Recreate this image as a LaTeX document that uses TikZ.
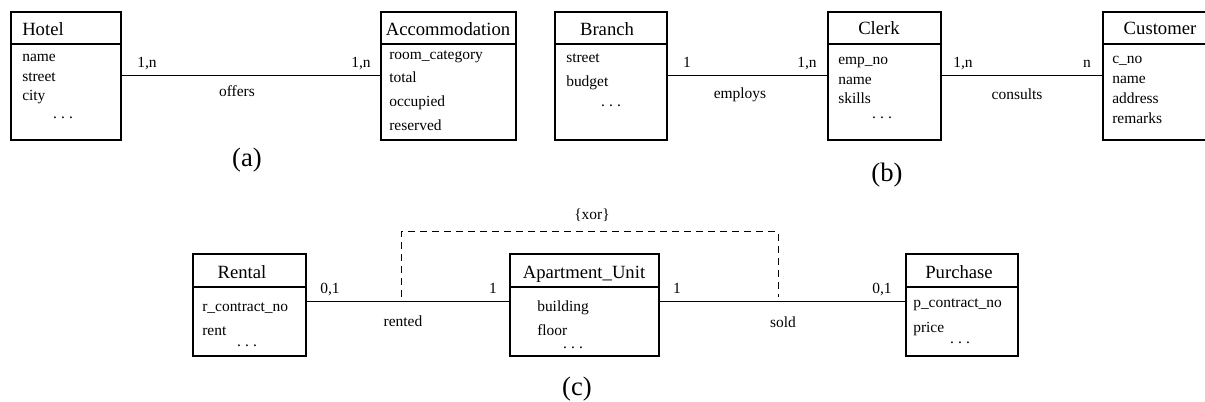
\documentclass[tikz,border=0pt]{standalone}
\usepackage{fontspec}
\setmainfont{Liberation Serif}
\newcommand\tdots{.\hspace{0.27em}.\hspace{0.27em}.}
\begin{document}
\begin{tikzpicture}[x=0.75pt,y=-0.75pt,
  ebox/.style={draw, line width=0.8pt, inner sep=0pt, outer sep=0pt, anchor=north west},
  eline/.style={line width=0.8pt},
  conn/.style={line width=0.75pt},
  xorline/.style={line width=0.75pt, dash pattern=on 5.25pt off 3.75pt},
  hdr/.style={font=\fontsize{14}{16}\selectfont, inner sep=0pt, anchor=base},
  attr/.style={font=\fontsize{11.6}{13}\selectfont, inner sep=0pt, anchor=base west},
  dts/.style={font=\fontsize{11.6}{13}\selectfont, inner sep=0pt, anchor=base},
  lbl/.style={font=\fontsize{11.6}{13}\selectfont, inner sep=0pt, anchor=base},
  capt/.style={font=\fontsize{20}{24}\selectfont, inner sep=0pt, anchor=base}]
\clip (0,0) rectangle (1205,402);
\fill[white] (0,0) rectangle (1205,402);

% ---------- entity boxes ----------
\newcommand\entity[6]{% name, x, y, w, h, header offset (px)
  \node[ebox, minimum width={#4*0.75pt}, minimum height={#5*0.75pt}] (#1) at (#2,#3) {};
  \draw[eline] ([yshift={-#6*0.75pt}]#1.north west) -- ([yshift={-#6*0.75pt}]#1.north east);
}

% (a)
\entity{hotel}{11}{12}{110}{128}{32}
\entity{acc}{381}{12}{135}{128}{32}
\node[hdr, anchor=base west] (hotelT) at (22,36) {Hotel};
\node[attr] (h1) at (22,62) {name};
\node[attr] (h2) at (22,82) {street};
\node[attr] (h3) at (22,101) {city};
\node[dts] (h4) at (63,119) {\tdots};
\node[hdr] (accT) at (448,36) {Accommodation};
\node[attr] (a1) at (389,60) {room\_category};
\node[attr] (a2) at (389,83) {total};
\node[attr] (a3) at (389,107) {occupied};
\node[attr] (a4) at (389,131) {reserved};
\draw[conn] (hotel.east) -- (acc.west);
\node[lbl] (o1) at (147,68) {1,n};
\node[lbl] (o2) at (361,68) {1,n};
\node[lbl] (offers) at (237,97) {offers};
\node[capt] (capa) at (247,167) {(a)};

% (b)
\entity{branch}{555}{12}{112}{128}{32}
\entity{clerk}{828}{12}{113}{128}{32}
\entity{cust}{1103}{12}{113}{128}{32}
\node[hdr] (branchT) at (607,36) {Branch};
\node[attr] (b1) at (566,63) {street};
\node[attr] (b2) at (566,87) {budget};
\node[dts] (b3) at (611,107) {\tdots};
\node[hdr] (clerkT) at (879,35) {Clerk};
\node[attr] (c1) at (838,65) {emp\_no};
\node[attr] (c2) at (838,85) {name};
\node[attr] (c3) at (838,104) {skills};
\node[dts] (c4) at (882,119) {\tdots};
\node[hdr] (custT) at (1160,35) {Customer};
\node[attr] (u1) at (1112,64) {c\_no};
\node[attr] (u2) at (1112,84) {name};
\node[attr] (u3) at (1112,104) {address};
\node[attr] (u4) at (1112,124) {remarks};
\draw[conn] (branch.east) -- (clerk.west);
\draw[conn] (clerk.east) -- (cust.west);
\node[lbl] (e1) at (687,68) {1};
\node[lbl] (e2) at (807,68) {1,n};
\node[lbl] (employs) at (740,99) {employs};
\node[lbl] (k1) at (963,68) {1,n};
\node[lbl] (k2) at (1087,68) {n};
\node[lbl] (consults) at (1017,100) {consults};
\node[capt] (capb) at (887,182) {(b)};

% (c)
\entity{rental}{193}{254}{113}{102}{33}
\entity{apt}{510}{254}{149}{102}{33}
\entity{purch}{906}{254}{112}{102}{33}
\node[hdr] (rentalT) at (242,279) {Rental};
\node[attr] (r1) at (202,311) {r\_contract\_no};
\node[attr] (r2) at (202,335) {rent};
\node[dts] (r3) at (247,346) {\tdots};
\node[hdr] (aptT) at (584,279) {Apartment\_Unit};
\node[attr] (p1) at (537,311) {building};
\node[attr] (p2) at (537,335) {floor};
\node[dts] (p3) at (573,348) {\tdots};
\node[hdr] (purchT) at (959,279) {Purchase};
\node[attr] (q1) at (913,308) {p\_contract\_no};
\node[attr] (q2) at (913,332) {price};
\node[dts] (q3) at (960,344) {\tdots};
\draw[conn] ([yshift=2.25pt]rental.east) -- ([yshift=2.25pt]apt.west);
\draw[conn] ([yshift=2.25pt]apt.east) -- ([yshift=2.25pt]purch.west);
\node[lbl] (n1) at (330,294) {0,1};
\node[lbl] (n2) at (493,294) {1};
\node[lbl] (rented) at (403,326) {rented};
\node[lbl] (n3) at (677,294) {1};
\node[lbl] (n4) at (882,294) {0,1};
\node[lbl] (sold) at (783,327) {sold};
\coordinate (xl) at (401,297);
\coordinate (xr) at (778,297);
\draw[xorline] (xl) -- ++(0,-65) -| (xr);
\node[lbl] (xor) at (592,220) {\{xor\}};
\node[capt] (capc) at (577,395) {(c)};
\end{tikzpicture}
\end{document}
